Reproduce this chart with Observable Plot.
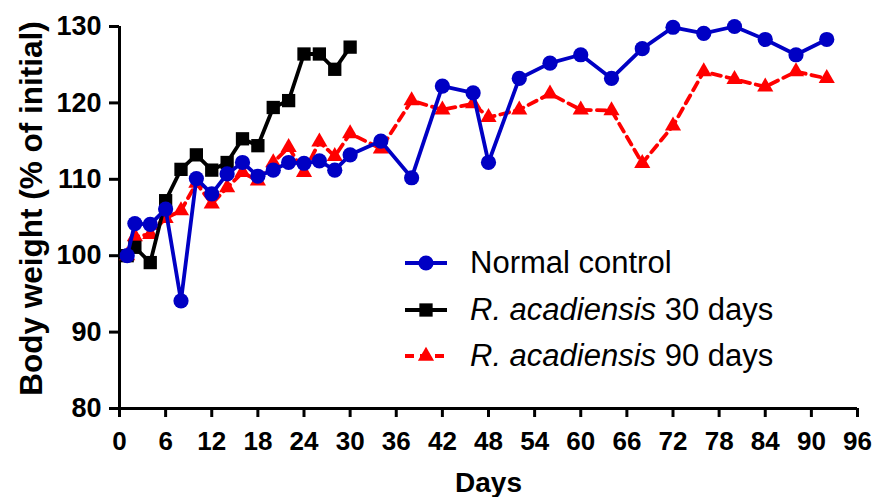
<!DOCTYPE html>
<html><head><meta charset="utf-8">
<script src="https://cdn.jsdelivr.net/npm/d3@7"></script>
<script src="https://cdn.jsdelivr.net/npm/@observablehq/plot@0.6"></script>
<style>
body{margin:0;background:#fff;}
#wrap{position:relative;width:874px;height:497px;font-family:Arial,"Liberation Sans",sans-serif;}
.row{position:absolute;left:402px;height:40px;display:flex;align-items:center;white-space:nowrap;font-size:31px;color:#000;}
.row svg{margin-right:20px;flex:none;}
</style></head><body>
<div id="wrap"><div id="chart"></div></div>
<script>
// Normal control
const ncDays = [1,2,4,6,8,10,12,14,16,18,20,22,24,26,28,30,34,38,42,46,48,52,56,60,64,68,72,76,80,84,88,92];
const ncVals = [100,104.2,104.1,106.1,94.1,110.1,108.1,110.7,112.2,110.4,111.2,112.2,112.1,112.4,111.2,113.2,115,110.2,122.2,121.3,112.2,123.2,125.2,126.3,123.2,127.1,129.9,129.1,130,128.3,126.3,128.3];
// R. acadiensis 30 days
const r30Days = [1,2,4,6,8,10,12,14,16,18,20,22,24,26,28,30];
const r30Vals = [100,101.1,99.1,107.2,111.3,113.2,111.2,112.2,115.3,114.4,119.4,120.3,126.4,126.4,124.4,127.3];
// R. acadiensis 90 days
const r90Days = [1,2,4,6,8,10,12,14,16,18,20,22,24,26,28,30,34,38,42,46,48,52,56,60,64,68,72,76,80,84,88,92];
const r90Vals = [100,102.5,102.8,104.9,105.9,109.5,106.8,108.9,110.9,109.8,112.2,114.2,110.9,114.9,113,116,114,120.3,119.1,119.9,118.1,119.1,121.2,119.1,119,112.1,117,124.1,123.1,122.1,124.1,123.2];

const xTicks = [0,6,12,18,24,30,36,42,48,54,60,66,72,78,84,90,96];
const yTicks = [80,90,100,110,120,130];
const xLabel = "Days";
const yLabel = "Body weight (% of initial)";

const BLUE = "#0000c4", BLACK = "#000000", RED = "#ff0000";
const R = {circle: 7.6, square: 7.5, triangle: 6};
const series = [
  {name: "Normal control", italic: "", rest: "Normal control", color: BLUE, symbol: "circle", dash: null},
  {name: "R. acadiensis 30 days", italic: "R. acadiensis", rest: " 30 days", color: BLACK, symbol: "square", dash: null},
  {name: "R. acadiensis 90 days", italic: "R. acadiensis", rest: " 90 days", color: RED, symbol: "triangle", dash: "9,6"}
];

const chart = Plot.plot({
  width: 874, height: 497,
  marginLeft: 119, marginRight: 17, marginTop: 26, marginBottom: 89,
  style: {fontFamily: 'Arial, "Liberation Sans", sans-serif', color: "#000", background: "#fff", overflow: "visible"},
  x: {domain: [0, 96]},
  y: {domain: [80, 130]},
  marks: [
    Plot.axisX(xTicks, {tickSize: 9, tickPadding: 14, fontSize: 26, fontWeight: "bold", strokeWidth: 3, label: null}),
    Plot.axisY(yTicks, {tickSize: 10, tickPadding: 8, fontSize: 27, fontWeight: "bold", strokeWidth: 3, label: null}),
    Plot.ruleX([0], {strokeWidth: 3}),
    Plot.ruleY([80], {strokeWidth: 3}),
    Plot.text([xLabel], {frameAnchor: "bottom", lineAnchor: "middle", textAnchor: "middle", dy: 75, fontSize: 28, fontWeight: "bold"}),
    Plot.text([yLabel], {frameAnchor: "left", textAnchor: "middle", lineAnchor: "middle", rotate: -90, dx: -88, dy: -9, fontSize: 31.5, fontWeight: "bold"}),
    // R. acadiensis 90 days
    Plot.line(r90Vals, {x: r90Days, y: r90Vals, stroke: RED, strokeWidth: 3.8, strokeDasharray: "9,6"}),
    Plot.dot(r90Vals, {x: r90Days, y: r90Vals, symbol: "triangle", r: R.triangle, fill: RED, stroke: "none"}),
    // R. acadiensis 30 days
    Plot.line(r30Vals, {x: r30Days, y: r30Vals, stroke: BLACK, strokeWidth: 3.8}),
    Plot.dot(r30Vals, {x: r30Days, y: r30Vals, symbol: "square", r: R.square, fill: BLACK, stroke: "none"}),
    // Normal control
    Plot.line(ncVals, {x: ncDays, y: ncVals, stroke: BLUE, strokeWidth: 3.8}),
    Plot.dot(ncVals, {x: ncDays, y: ncVals, symbol: "circle", r: R.circle, fill: BLUE, stroke: "none"})
  ]
});
const wrap = document.getElementById("wrap");
document.getElementById("chart").appendChild(chart);

// Legend (HTML overlay)
const rowCenters = [263, 310, 356];
series.forEach((s, i) => {
  const row = document.createElement("div");
  row.className = "row";
  row.style.top = (rowCenters[i] - 20) + "px";
  const sw = d3.create("svg").attr("width", 48).attr("height", 40);
  sw.append("line").attr("x1", 3).attr("x2", 45).attr("y1", 20).attr("y2", 20)
    .attr("stroke", s.color).attr("stroke-width", 3.8)
    .attr("stroke-dasharray", s.dash);
  const sym = {circle: d3.symbolCircle, square: d3.symbolSquare, triangle: d3.symbolTriangle}[s.symbol];
  const rr = R[s.symbol];
  sw.append("path").attr("transform", "translate(24,20)")
    .attr("d", d3.symbol(sym, Math.PI * rr * rr)()).attr("fill", s.color);
  row.appendChild(sw.node());
  const label = document.createElement("span");
  if (s.italic) {
    const em = document.createElement("i");
    em.textContent = s.italic;
    label.appendChild(em);
    label.appendChild(document.createTextNode(s.rest));
  } else {
    label.textContent = s.rest;
  }
  row.appendChild(label);
  wrap.appendChild(row);
});
</script>
</body></html>
